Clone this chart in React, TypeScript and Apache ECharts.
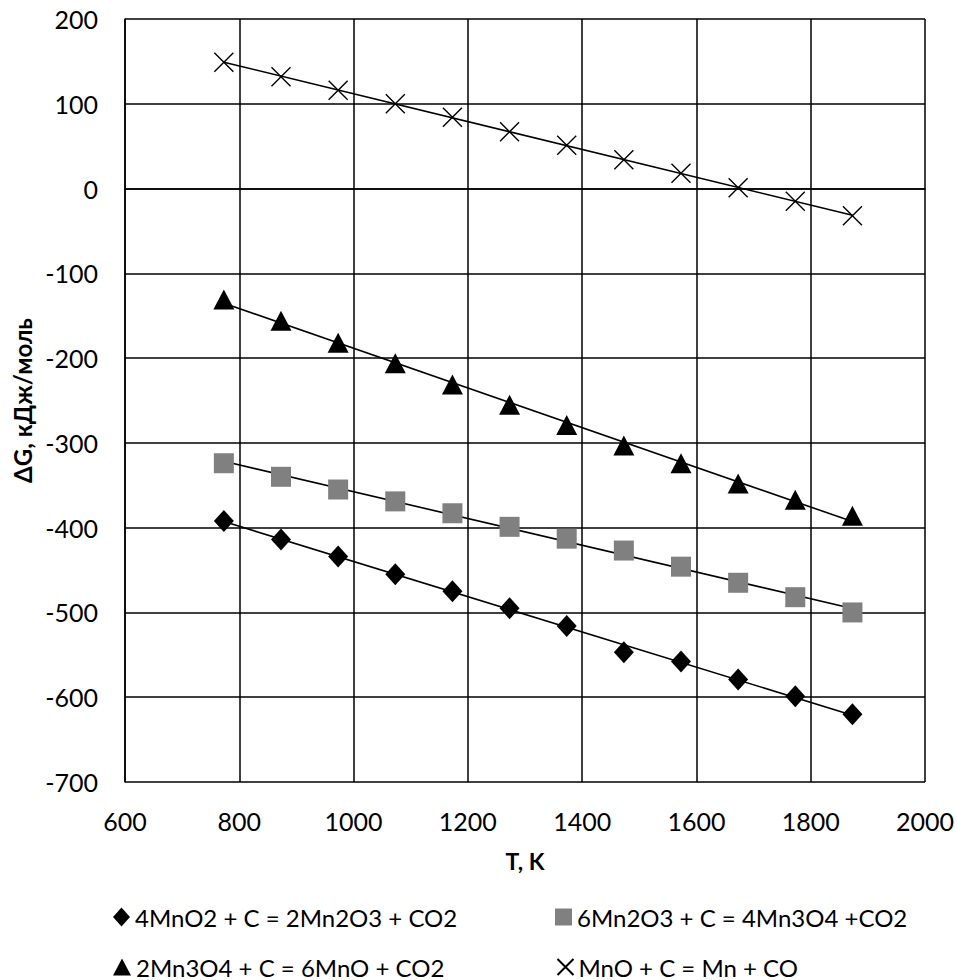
import React, { useEffect, useRef } from "react";
import * as echarts from "echarts";

const temps = [773, 873, 973, 1073, 1173, 1273, 1373, 1473, 1573, 1673, 1773, 1873];
const mno2 = [-392, -414, -434, -455, -475, -495, -516, -547, -558, -579, -599, -620];
const mn2o3 = [-324, -340, -355, -369, -383, -399, -413, -427, -446, -465, -482, -500];
const mn3o4 = [-131, -156, -182, -206, -231, -255, -279, -303, -324, -348, -367, -386];
const mno = [149, 132, 116, 100, 84, 67, 51, 34, 18, 1, -15, -32];

const names = [
  "4MnO2 + C = 2Mn2O3 + CO2",
  "6Mn2O3 + C = 4Mn3O4 +CO2",
  "2Mn3O4 + C = 6MnO + CO2",
  "MnO + C = Mn + CO",
];

const FONT = "Lato";
const X_PATH = "path://M0,0L10,10M10,0L0,10";

function fitLine(xs: number[], ys: number[]) {
  const n = xs.length;
  const mx = xs.reduce((a, b) => a + b, 0) / n;
  const my = ys.reduce((a, b) => a + b, 0) / n;
  let sxy = 0, sxx = 0;
  for (let i = 0; i < n; i++) {
    sxy += (xs[i] - mx) * (ys[i] - my);
    sxx += (xs[i] - mx) * (xs[i] - mx);
  }
  const b = sxy / sxx;
  const a = my - b * mx;
  const x0 = xs[0], x1 = xs[n - 1];
  return [[x0, a + b * x0], [x1, a + b * x1]];
}

export default function App() {
  const ref = useRef<HTMLDivElement>(null);
  useEffect(() => {
    if (!ref.current) return;
    const chart = echarts.init(ref.current, null, { renderer: "svg" });
    const sets = [mno2, mn2o3, mn3o4, mno];
    const pts = (ys: number[]) => temps.map((t, i) => [t, ys[i]]);
    const trend = sets.map((ys) => ({
      type: "line",
      data: fitLine(temps, ys),
      showSymbol: false,
      symbol: "none",
      lineStyle: { color: "#000", width: 1.6 },
      z: 2,
      silent: true,
    }));
    const scatterBase = { type: "scatter", z: 3 };
    const series: any[] = [
      ...trend,
      { ...scatterBase, name: names[0], data: pts(mno2), symbol: "diamond", symbolSize: [20, 22], itemStyle: { color: "#000", opacity: 1 } },
      { ...scatterBase, name: names[1], data: pts(mn2o3), symbol: "rect", symbolSize: 20, itemStyle: { color: "#808080", opacity: 1 } },
      { ...scatterBase, name: names[2], data: pts(mn3o4), symbol: "triangle", symbolSize: [21, 20], itemStyle: { color: "#000", opacity: 1 } },
      { ...scatterBase, name: names[3], data: pts(mno), symbol: X_PATH, symbolSize: 19, itemStyle: { color: "none", borderColor: "#000", borderWidth: 1.4, opacity: 1 } },
    ];
    const legendText = { fontFamily: FONT, fontSize: 24, lineHeight: 22, color: "#000" };
    const mkLegend = (name: string, left: number, top: number, icon: string, w: number, h: number) => ({
      data: [{ name, icon }],
      left,
      top,
      itemWidth: w,
      itemHeight: h,
      itemGap: 0,
      textStyle: legendText,
      padding: 0,
      selectedMode: false,
    });
    chart.setOption({
      animation: false,
      backgroundColor: "#fff",
      grid: { left: 125, right: 31, top: 19, bottom: 198, containLabel: false },
      xAxis: {
        type: "value",
        min: 600,
        max: 2000,
        interval: 200,
        name: "T, K",
        nameLocation: "middle",
        nameGap: 67,
        nameTextStyle: { fontFamily: FONT, fontSize: 23, fontWeight: "bold", color: "#000" },
        axisLine: { lineStyle: { color: "#000", width: 1.5 } },
        axisTick: { show: false },
        axisLabel: { fontFamily: FONT, fontSize: 25, color: "#000", margin: 26, formatter: (v: number) => String(v) },
        splitLine: { show: true, lineStyle: { color: "#000", width: 1.5 } },
      },
      yAxis: {
        type: "value",
        min: -700,
        max: 200,
        interval: 100,
        name: "ΔG, кДж/моль",
        nameLocation: "middle",
        nameGap: 90,
        nameTextStyle: { fontFamily: FONT, fontSize: 24, fontWeight: "bold", color: "#000" },
        axisLine: { show: true, lineStyle: { color: "#000", width: 1.5 } },
        axisTick: { show: false },
        axisLabel: { fontFamily: FONT, fontSize: 25, color: "#000", margin: 27, formatter: (v: number) => String(v) },
        splitLine: { show: true, lineStyle: { color: "#000", width: 1.5 } },
      },
      legend: [
        mkLegend(names[0], 113, 905, "diamond", 17, 19),
        mkLegend(names[1], 555, 905, "rect", 17, 17),
        mkLegend(names[2], 113, 955, "triangle", 18, 17),
        mkLegend(names[3], 555, 955, X_PATH, 16, 16),
      ],
      series,
    });
    return () => chart.dispose();
  }, []);
  return <div ref={ref} style={{ width: 957, height: 980, position: "absolute", left: 0, top: 0 }} />;
}
